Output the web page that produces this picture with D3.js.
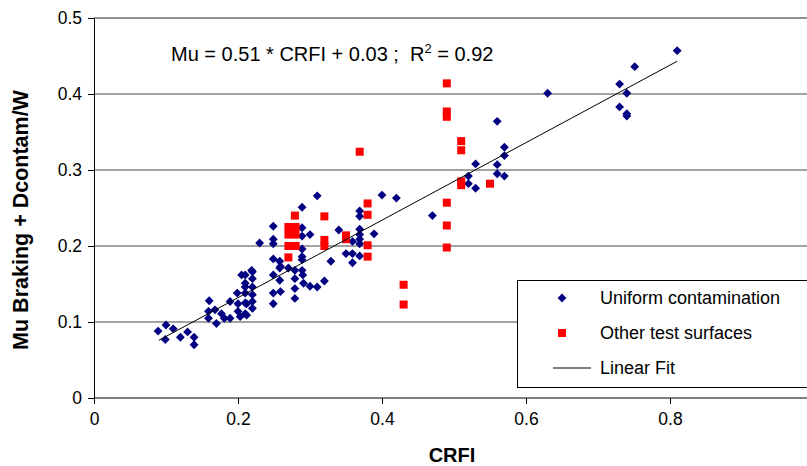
<!DOCTYPE html>
<html>
<head>
<meta charset="utf-8">
<script src="https://cdn.jsdelivr.net/npm/d3@7"></script>
<style>
  html, body { margin: 0; padding: 0; background: #fff; }
  svg { display: block; font-family: "Liberation Sans", Arial, sans-serif; }
</style>
</head>
<body>
<svg id="chart" width="807" height="466"></svg>
<script>
// CRFI vs. braking friction + contaminant drag coefficient
const uniformContamination = [
  [0.089,0.088],[0.100,0.096],[0.099,0.077],[0.110,0.091],[0.120,0.080],[0.130,0.087],[0.139,0.080],[0.139,0.070],
  [0.160,0.128],[0.159,0.114],[0.159,0.105],[0.168,0.116],[0.170,0.098],[0.177,0.111],[0.181,0.105],[0.189,0.105],
  [0.189,0.127],[0.200,0.114],[0.203,0.107],[0.212,0.109],[0.200,0.124],[0.212,0.124],[0.199,0.138],
  [0.210,0.162],[0.210,0.151],[0.210,0.146],[0.210,0.138],[0.210,0.125],[0.210,0.111],
  [0.220,0.166],[0.220,0.157],[0.220,0.146],[0.220,0.136],[0.220,0.127],[0.220,0.118],[0.219,0.168],[0.205,0.162],
  [0.230,0.204],
  [0.249,0.226],[0.249,0.209],[0.249,0.203],[0.249,0.183],[0.249,0.162],[0.249,0.138],[0.249,0.124],
  [0.258,0.180],[0.258,0.171],[0.259,0.173],[0.258,0.155],[0.259,0.140],
  [0.270,0.171],
  [0.279,0.168],[0.279,0.157],[0.279,0.144],[0.279,0.131],
  [0.289,0.251],[0.289,0.224],[0.289,0.213],[0.289,0.196],[0.289,0.186],[0.289,0.182],[0.289,0.168],[0.290,0.162],[0.291,0.151],
  [0.300,0.215],[0.300,0.147],
  [0.310,0.266],[0.310,0.146],
  [0.320,0.154],
  [0.329,0.180],
  [0.340,0.221],
  [0.350,0.190],
  [0.359,0.206],[0.359,0.190],[0.359,0.178],
  [0.369,0.246],[0.369,0.239],[0.369,0.222],[0.369,0.215],[0.369,0.209],[0.369,0.203],[0.369,0.187],
  [0.389,0.216],
  [0.400,0.267],
  [0.420,0.263],
  [0.470,0.240],
  [0.520,0.292],[0.520,0.282],
  [0.530,0.308],[0.530,0.276],
  [0.560,0.364],[0.560,0.307],[0.560,0.295],
  [0.570,0.330],[0.570,0.319],[0.570,0.292],
  [0.630,0.401],
  [0.730,0.413],[0.730,0.383],
  [0.740,0.401],[0.740,0.374],[0.740,0.371],
  [0.751,0.436],
  [0.810,0.457]
];

const otherSurfaces = [
  [0.490,0.414],[0.490,0.377],[0.490,0.370],[0.510,0.338],[0.510,0.326],[0.510,0.285],[0.510,0.280],
  [0.550,0.282],[0.490,0.257],[0.490,0.227],[0.490,0.198],
  [0.369,0.324],[0.380,0.256],[0.380,0.241],[0.380,0.201],[0.380,0.186],[0.350,0.214],[0.350,0.209],
  [0.430,0.149],[0.430,0.123],
  [0.320,0.239],[0.320,0.208],[0.320,0.200],
  [0.279,0.240],[0.270,0.225],[0.280,0.225],[0.270,0.215],[0.280,0.215],[0.280,0.200],[0.270,0.200],[0.270,0.185]
];

// Least-squares fit reported on the chart
const fitSlope = 0.51;
const fitIntercept = 0.03;
const fitRSquared = 0.92;
const fitRange = [0.09, 0.81];

const xTicks = [0, 0.2, 0.4, 0.6, 0.8];
const yTicks = [0, 0.1, 0.2, 0.3, 0.4, 0.5];

const legendLabels = ["Uniform contamination", "Other test surfaces", "Linear Fit"];

const svg = d3.select("#chart");
const x = d3.scaleLinear().domain([0, 1]).range([94, 814]);
const y = d3.scaleLinear().domain([0, 0.5]).range([398, 18]);

const BLUE = "#000080", RED = "#ff0000";
const FONT = '"Liberation Sans", Arial, sans-serif';

// horizontal gridlines
svg.append("g").selectAll("line")
  .data(yTicks.filter(d => d > 0 && d < 0.5))
  .join("line")
  .attr("x1", x(0)).attr("x2", 807)
  .attr("y1", d => y(d)).attr("y2", d => y(d))
  .attr("stroke", "#444").attr("stroke-width", 1);

// top border of plot area
svg.append("line")
  .attr("x1", x(0)).attr("x2", 807).attr("y1", y(0.5)).attr("y2", y(0.5))
  .attr("stroke", "#222").attr("stroke-width", 1);

// axes
const fmt = d => d === 0 ? "0" : d3.format(".1f")(d);
const xAxis = d3.axisBottom(x).tickValues(xTicks).tickFormat(fmt)
  .tickSizeInner(6).tickSizeOuter(0).tickPadding(9);
const gx = svg.append("g").attr("transform", `translate(0,${y(0)})`).call(xAxis);
gx.select(".domain").attr("d", `M${x(0)},0H807`).attr("stroke", "#000");

const yAxis = d3.axisLeft(y).tickValues(yTicks).tickFormat(fmt)
  .tickSizeInner(6).tickSizeOuter(0).tickPadding(6);
const gy = svg.append("g").attr("transform", `translate(${x(0)},0)`).call(yAxis);

svg.selectAll(".tick text").attr("font-size", 17.5).attr("fill", "#000").attr("font-family", FONT);
svg.selectAll(".tick line").attr("stroke", "#000");
gy.select(".domain").attr("stroke", "#000");

// markers
const diamond = d3.symbol().type(d3.symbolDiamond2).size(50);
svg.append("g").selectAll("path")
  .data(uniformContamination)
  .join("path")
  .attr("d", diamond)
  .attr("transform", d => `translate(${x(d[0])},${y(d[1])})`)
  .attr("fill", BLUE);

svg.append("g").selectAll("rect")
  .data(otherSurfaces)
  .join("rect")
  .attr("x", d => x(d[0]) - 4).attr("y", d => y(d[1]) - 4)
  .attr("width", 8).attr("height", 8)
  .attr("fill", RED);

// fitted line
svg.append("line")
  .attr("x1", x(fitRange[0])).attr("y1", y(fitSlope * fitRange[0] + fitIntercept))
  .attr("x2", x(fitRange[1])).attr("y2", y(fitSlope * fitRange[1] + fitIntercept))
  .attr("stroke", "#000").attr("stroke-width", 1);

// equation text
const eq = svg.append("text").attr("x", 171).attr("y", 61).attr("font-size", 20)
  .attr("fill", "#000").style("white-space", "pre");
eq.append("tspan").text(`Mu = ${fitSlope} * CRFI + ${d3.format(".2f")(fitIntercept)} ;  R`);
eq.append("tspan").attr("dy", -8).attr("font-size", 13).text("2");
eq.append("tspan").attr("dy", 8).text(` = ${fitRSquared}`);

// axis titles
svg.append("text").attr("x", 452).attr("y", 462).attr("text-anchor", "middle")
  .attr("font-size", 20).attr("font-weight", "bold").text("CRFI");
svg.append("text").attr("transform", "translate(28,220) rotate(-90)").attr("text-anchor", "middle")
  .attr("font-size", 21.5).attr("font-weight", "bold").text("Mu Braking + Dcontam/W");

// legend
const lg = svg.append("g");
lg.append("rect").attr("x", 517.5).attr("y", 280.5).attr("width", 300).attr("height", 107)
  .attr("fill", "#fff").attr("stroke", "#000");
const rows = [298, 333, 368];
lg.append("path").attr("d", diamond).attr("transform", `translate(562,${rows[0]})`).attr("fill", BLUE);
lg.append("rect").attr("x", 558).attr("y", rows[1] - 4).attr("width", 8).attr("height", 8).attr("fill", RED);
lg.append("line").attr("x1", 553).attr("x2", 591).attr("y1", rows[2]).attr("y2", rows[2]).attr("stroke", "#000");
lg.selectAll("text.lab").data(legendLabels).join("text")
  .attr("class", "lab")
  .attr("x", 600).attr("y", (d, i) => rows[i]).attr("dy", "0.35em")
  .attr("font-size", 18).text(d => d);
</script>
</body>
</html>
